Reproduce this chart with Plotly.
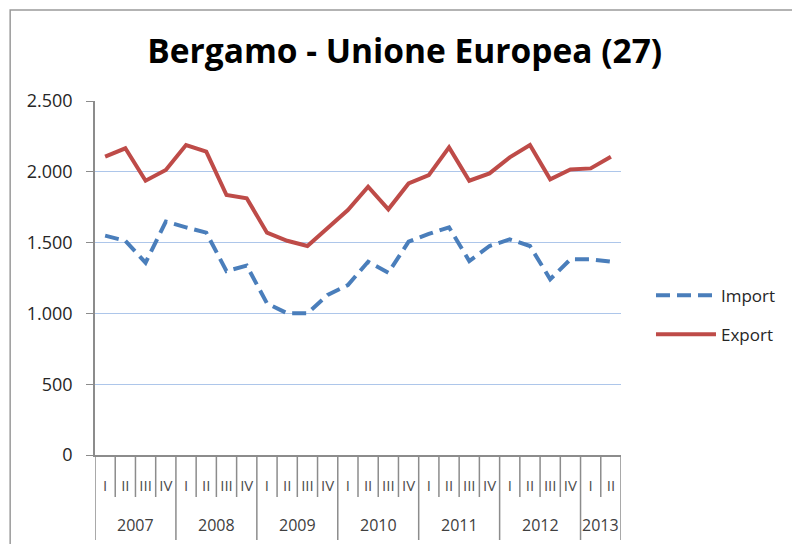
import plotly.graph_objects as go

years = ["2007"] * 4 + ["2008"] * 4 + ["2009"] * 4 + ["2010"] * 4 + ["2011"] * 4 + ["2012"] * 4 + ["2013"] * 2
quarters = ["I", "II", "III", "IV"] * 6 + ["I", "II"]

import_vals = [1549, 1513, 1358, 1648, 1608, 1570, 1299, 1337,
               1071, 1001, 1001, 1130, 1200, 1365, 1287, 1506,
               1561, 1608, 1370, 1476, 1523, 1476, 1241, 1382,
               1382, 1365]
export_vals = [2107, 2166, 1937, 2013, 2189, 2142, 1836, 1813,
               1570, 1513, 1476, 1600, 1730, 1895, 1735, 1918,
               1977, 2172, 1937, 1989, 2102, 2189, 1947, 2017,
               2024, 2107]

# one category per quarter, labelled with the quarter only
cats = [y + " " + q for y, q in zip(years, quarters)]
n = len(cats)

fig = go.Figure()
fig.add_trace(go.Scatter(x=cats, y=import_vals, name="Import", mode="lines",
                         legendgroup="imp",
                         line=dict(color="#4a7ebb", width=4, dash="14px,7px")))
fig.add_trace(go.Scatter(x=cats, y=export_vals, name="Export", mode="lines",
                         legendgroup="exp",
                         line=dict(color="#be4b48", width=4)))

grey = "#8c8c8c"

# quarter ticks and year dividers under the axis
for i in range(n + 1):
    first_of_year = i == 0 or i == n or years[i] != years[i - 1]
    fig.add_shape(type="line", xref="x", yref="paper", x0=i - 0.5, x1=i - 0.5,
                  y0=0, y1=(-85 / 354 if first_of_year else -42 / 354),
                  line=dict(color=grey, width=1.5))

# year labels centred under their quarters
for yr in dict.fromkeys(years):
    idx = [i for i, y in enumerate(years) if y == yr]
    fig.add_annotation(x=sum(idx) / len(idx), y=-70 / 354, xref="x", yref="paper",
                       text=yr, showarrow=False, yanchor="middle",
                       font=dict(family="Open Sans", size=16, color="#404040"))

fig.update_layout(
    width=792, height=544,
    margin=dict(l=95, r=170, t=101, b=89),
    paper_bgcolor="white", plot_bgcolor="white",
    separators=",.",
    title=dict(text="<b>Bergamo - Unione Europea (27)</b>", x=0.511, xanchor="center",
               y=0.905, yanchor="middle",
               font=dict(family="Open Sans", size=33.5, color="black")),
    showlegend=True,
    legend=dict(x=1.055, y=0.395, xanchor="left", yanchor="middle",
                font=dict(family="Open Sans", size=17, color="#262626"),
                tracegroupgap=14, itemwidth=60),
    xaxis=dict(type="category", range=[-0.5, n - 0.5], showline=True, linecolor=grey,
               linewidth=1.5, ticks="", tickangle=0, tickvals=cats, ticktext=quarters,
               ticklabelstandoff=16,
               tickfont=dict(family="Open Sans", size=15, color="#4d4d4d"), showgrid=False),
    yaxis=dict(range=[0, 2500], dtick=500, tickformat=",d", showline=True,
               linecolor=grey, linewidth=1.5, ticks="outside", ticklen=7,
               tickcolor=grey, gridcolor="#adc6ea", gridwidth=1, ticklabelstandoff=10,
               zeroline=False, tickfont=dict(family="Open Sans", size=18, color="#262626")),
)

fig.add_shape(type="rect", xref="paper", yref="paper",
              x0=(10 - 95) / 527, x1=(800 - 95) / 527, y0=-1, y1=(455 - 10) / 354,
              line=dict(color="#9a9a9a", width=1.5), layer="below")

fig.write_html("out.html", config={"displayModeBar": False},
               post_script="document.body.style.margin='0px';")
